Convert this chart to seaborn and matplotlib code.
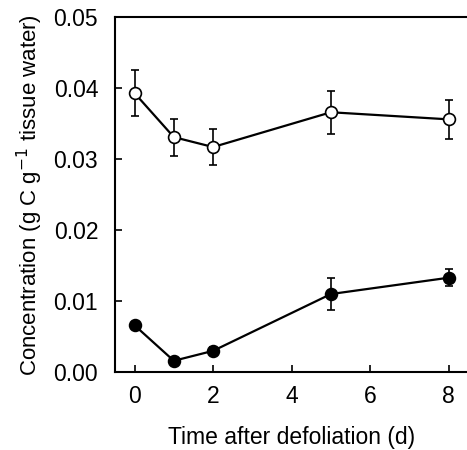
import matplotlib
matplotlib.use("Agg")
import matplotlib.pyplot as plt
import seaborn as sns
import pandas as pd

# Days after defoliation
days = [0, 1, 2, 5, 8]
# Concentrations (g C per g tissue water) and standard errors
open_mean = [0.0393, 0.0331, 0.0317, 0.0366, 0.0356]
open_err = [0.0032, 0.0026, 0.0025, 0.0030, 0.0027]
filled_mean = [0.0066, 0.0016, 0.0030, 0.0110, 0.0133]
filled_err = [0.0003, 0.0002, 0.0005, 0.0022, 0.0012]

sns.set_style("ticks")
plt.rcParams["font.family"] = ["Liberation Sans", "DejaVu Sans"]
plt.rcParams["text.color"] = "black"
plt.rcParams["axes.labelcolor"] = "black"
plt.rcParams["xtick.color"] = "black"
plt.rcParams["ytick.color"] = "black"

fig = plt.figure(figsize=(4.67, 4.5), dpi=100)
ax = fig.add_axes([0.246, 0.173, 0.757, 0.789])

df_open = pd.DataFrame({"day": days, "conc": open_mean})
df_filled = pd.DataFrame({"day": days, "conc": filled_mean})

for df, err, face in [(df_open, open_err, "white"), (df_filled, filled_err, "black")]:
    ax.errorbar(df["day"], df["conc"], yerr=err, fmt="none", ecolor="black",
                elinewidth=1.2, capsize=3, capthick=1.2, zorder=2)
    sns.lineplot(data=df, x="day", y="conc", ax=ax, color="black", linewidth=1.6,
                 marker="o", markersize=8.5, markerfacecolor=face,
                 markeredgecolor="black", markeredgewidth=1.2, zorder=3)

ax.set_xlim(-0.5, 8.5)
ax.set_ylim(0, 0.05)
ax.set_xticks([0, 2, 4, 6, 8])
ax.set_yticks([0.00, 0.01, 0.02, 0.03, 0.04, 0.05])
ax.set_yticklabels(["0.00", "0.01", "0.02", "0.03", "0.04", "0.05"])
ax.tick_params(direction="in", length=5, width=1.2, labelsize=16.5)
ax.tick_params(axis="y", pad=12)
ax.tick_params(axis="x", pad=9)
for s in ax.spines.values():
    s.set_linewidth(1.5)
    s.set_color("black")

ax.set_xlabel("Time after defoliation (d)", fontsize=16.5, labelpad=13)
ax.set_ylabel("Concentration (g C g$^{-1}$ tissue water)", fontsize=16, labelpad=6)

fig.savefig("out.png", dpi=100)
